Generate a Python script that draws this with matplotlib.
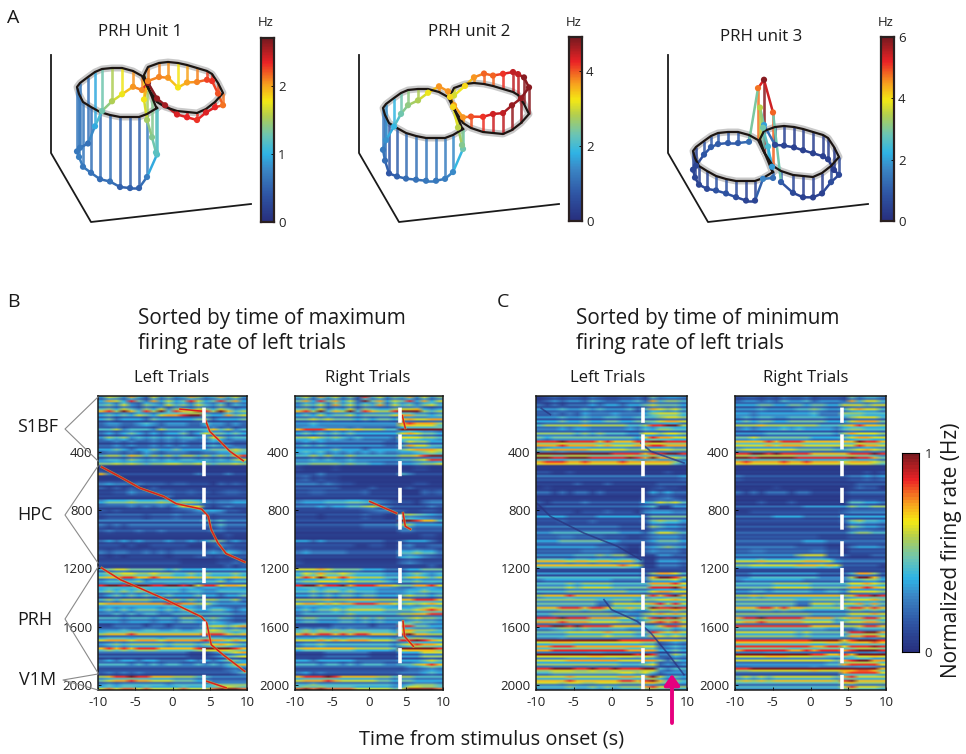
import numpy as np
import matplotlib
matplotlib.use("Agg")
import matplotlib.pyplot as plt
from matplotlib.colors import LinearSegmentedColormap

W, H = 966, 754
plt.rcParams['font.family'] = ['Open Sans', 'DejaVu Sans']
plt.rcParams['axes.unicode_minus'] = False

# track of the figure eight, shared by the three units (px on the first unit)
track_x = [157,147,139,130,120,110,100,91,83,79,77,80,88,95,102,112,122,133,142,148,157,165,177,187,197,206,215,223,218,212,207,197,187,178,168,159,148,144,147,152,156]
track_y = [108,114,117,117,117,115,112,107,102,94,87,83,77,72,69,68,68,71,76,88,102,107,111,112,113,109,102,93,83,74,71,68,65,63,62,63,67,75,85,97,107]

unit1_rate = [1.17,0.7,0.47,0.47,0.5,0.6,0.58,0.62,0.65,0.7,0.66,0.65,0.6,0.95,1.3,1.55,1.75,2.05,2.1,2.65,2.6,2.55,2.4,2.35,2.3,2.4,2.35,2.15,2.2,2.3,2.25,2.1,2.0,1.8,2.05,2.1,2.1,1.8,1.5,1.35,1.2]
unit2_rate = [2.35,1.45,1.25,1.15,1.15,1.1,1.0,0.85,0.75,1.0,1.2,1.5,1.9,2.3,2.6,2.8,3.2,3.7,3.7,3.6,3.7,4.0,4.2,4.4,4.5,4.7,4.7,4.8,4.8,4.5,4.45,4.2,3.95,3.95,3.7,3.3,3.0,3.35,3.35,2.9,2.5]
unit3_rate = [1.3,1.6,0.5,0.5,0.7,0.8,0.8,0.6,0.55,0.5,0.55,0.55,0.85,1.0,1.0,1.0,1.0,1.25,4.7,5.9,4.8,1.0,0.6,0.4,0.45,0.45,0.7,0.6,0.3,0.4,0.4,0.4,0.4,0.45,0.5,0.6,2.0,3.5,2.9,2.5,1.9]

# rows are about 34 units deep, columns 1 s wide, digit = tenths of the rate
left_b = [
"36537426353475347463","45363254364536435243","56475364736547647534","34343543566788433645","34233324333334423334",
"23322343233322433232","33423332433333353423","23234323233423544343","35453434343443365344","22323223232322343322",
"33432334334333344454","23323243233322334465","34435434343443434356","66767656677667656676","21111111111111111111",
"52111111111112111211","11111111111111111111","45443433323322213232","21212112111111111111","22336444443343323443",
"11111111121111111111","57778777876887434455","22223232324787212322","32322222223346776332","23333323334333323333",
"22222222222222323222","32323333333333335333","23222322322222233222","11111111111111111211","23232322232232344232",
"22212112222211124322","32332232323333343543","21212222212223323233","22222222222111112232","11111111111111111212",
"34554444434333333333","45566556554454544454","34444534444444445344","78878887788785775665","45454544444344334444",
"23434343343334332334","34344443334343443342","67777777788775643333","34343444343443344323","22323233223333333322",
"44434443443554454322","11222212212222455456","33343344334334565454","45556555555555666545","56665666566666766565",
"34545555545554567654","56565666555556778765","22222222222211123456","23233233222232323443","33332323233223232345",
"22222222222222222343","23232322222222222235","45667665554443322222","34344444434444445555","45455454444544456765",
]
right_b = [
"46374635284635473635","35463746354736453564","56473547365446778434","34353445344445664434","44545444343443565566",
"33433333333333787775","56665554544433788889","34343434333333565443","55654543433332666554","34343333333322476644",
"33333433323333456665","45453434343433445676","33434334333333445688","55666656554433445667","21111211111111112211",
"11121111111111321111","34232211111111111111","44434322111111112211","22222211112111121111","33443333342222111434",
"11111111111111111111","45556667765432221344","33343445567432222232","22222222234554322332","22212222232211787654",
"11111111111111786553","22222222233333664444","11111111111111332222","11111111111111111221","33232222222211233321",
"22222222112211342233","34333332222222556553","22222222222222787543","21111111111111343222","11111111111111111121",
"55565444433322233444","46575565444433345434","45566656555543445444","78867786777665446675","44545545444333344544",
"33434344344333454434","44445445555444556665","67767677888776565676","34344545555544445676","23333334333333445566",
"45544455454544456554","11111222221222774433","45454545444443775554","56566565665554675544","55565656665554778765",
"34454444444443568776","45555555444443788886","11112222221111333555","33233333222222333454","33323323233322334565",
"22222222222222233454","34232222222222333454","56667655555443443333","44544444444443345554","56565555444443477665",
]
left_c = [
"12323324322334274554","21212223233233454443","33343343433342476564","22323243334333467775","33343343344334445665",
"34444454444433466774","33343443333343546655","55555454544433665665","43444444444443576655","66676666565556677666",
"56777776666655666655","77787777776666566776","88778887777787686654","78887787777877777753","11111111111111111111",
"22112111111111111211","33333333333333333334","11111211121111112222","12111111111111123221","22121221211111132322",
"11111111111111234532","21222232222222457675","12222222222222341133","22222122232221455544","33332222333333244444",
"22232223222222378775","33333333333222265443","33444444444333246654","44455444433322356664","33344444433222234443",
"44444444333211345654","44444455554311465553","33333444545521113322","88887887887885114443","88888888888987113332",
"11111111111111111111","33333333333333257764","34444444443333366674","44445455554444477786","44445555555544467766",
"45556555555555465675","55555555445554556676","44444444225555567575","55566656654454476686","44555555554433567676",
"77787776666553578786","66776766665555335665","44566565555544455645","44445555565554476565","77787777777666665554",
"77888777777777662343","66777777777766663343","77777778877776762243","55556666666555664243","55555555555444562323",
"66777667667666773233","44555555555665642333","55556555555665685343","77767766777666886554","44445445454555786655",
]
right_c = [
"23323243342333274664","33344334434433555455","33343333445433467664","44344444445333666555","34344334444433356664",
"44454444444333456554","34344454544443566555","33334444444443576665","44544444443333456655","55556566655555557665",
"56666666555554456765","66776766665555566676","88788888777777787764","78777787787777677765","11111111111111111111",
"11111111111111111212","32222222222222233434","11111111111111112222","11111211111111124331","21212221221111122222",
"11111111111111122222","11121112111111155443","22222222233333354455","11222222222222344444","22222333322222333333",
"22222222222222378665","22222222222222265443","22222222222222245544","33333333333222233333","22222222233322222222",
"33333333222211134443","44554444445533133333","33333333566622211122","77787777788874333333","66777777888787222221",
"11111111111111111111","22333333333222247752","34444444433333355664","44444555554444466765","33443444443344366665",
"44545555555555456676","55555555445555566675","44444444225554556464","55566565544444466565","55555555554444466676",
"67787777766664566775","66666666665555445665","55555555555544335555","55555555454444477886","66666666667777568786",
"88888888887788688898","67777776676777678887","77778887776655657787","55555555555554678866","33333333333344788886",
"66777777778777889985","22222222222222788886","45454555555554675555","55555555555555786666","44444444444444686665",
]

# how strong each unit is within a band, same order on left and right trials
stripes_b = ("6374625847372653847364526375482635" "3232832324252327234252324238253252432724324523234"
             "54736584627356472846357482635473658247364857362748634" "528473659")
stripes_c = ("4263726354627384526374857362847365" "2324252326232742325262342724325236232742523262352"
             "53746285364736284637485263746285374628536472853746285" "637485264")

b_left_ridges = [
    ([1, 4.1, 4.4, 5, 6.4, 7.7, 9.5], [105, 120, 178, 258, 327, 395, 460]),
    ([-9.5, -7, -4.4, -1.2, 0.5, 3.9, 4.8, 5.2, 6.1, 7.2, 9.7], [503, 572, 647, 705, 755, 792, 842, 934, 1025, 1098, 1156]),
    ([-9.5, -7, -3.9, -0.9, 0.5, 3.9, 4.6, 5.2, 6.8, 9.7], [1197, 1277, 1346, 1414, 1449, 1533, 1575, 1724, 1793, 1907]),
    ([4.6, 7.2], [1975, 2020]),
]
b_right_ridges = [
    ([0.1, 3.7], [740, 820]),
    ([4.6, 4.9, 5.6], [819, 910, 930]),
    ([4.6, 4.8, 6], [1563, 1666, 1735]),
    ([4.5, 4.9], [150, 235]),
]
c_left_troughs = [
    ([-9.3, -8.1], [100, 143]),
    ([3.9, 5.2, 9.6], [338, 395, 475]),
    ([-9.9, -8.1, -3.7, 0.8, 3.9], [750, 842, 956, 1048, 1140]),
    ([-1, 0, 3.4, 5.2, 7.4, 9.6], [1414, 1483, 1563, 1643, 1781, 1930]),
]

unit_ticks = [[0, 1, 2], [0, 2, 4], [0, 2, 4, 6]]
unit_tops = [2.7, 4.9, 6.0]
x_ticks = [-10, -5, 0, 5, 10]
y_ticks = [400, 800, 1200, 1600, 2000]

jet_ai = LinearSegmentedColormap.from_list("jet_ai", [
    (0.00, "#28307f"), (0.14, "#2f55a4"), (0.28, "#3b87c6"), (0.37, "#2fb5e6"),
    (0.47, "#6cc5b4"), (0.58, "#b5cf4d"), (0.66, "#f5e914"), (0.75, "#f8a11f"),
    (0.87, "#ec2326"), (1.00, "#7a1a20")]).resampled(64)

fig = plt.figure(figsize=(W / 100, H / 100), dpi=100)


def px_axes(x0, y0, x1, y1, **kw):
    return fig.add_axes([x0 / W, 1 - y1 / H, (x1 - x0) / W, (y1 - y0) / H], **kw)


over = px_axes(0, 0, W, H, zorder=5)
over.set_xlim(0, W)
over.set_ylim(H, 0)
over.axis("off")
over.patch.set_alpha(0)


def draw_unit(rate, dx, dy, z, k, vmax):
    tx = np.array(track_x) + dx
    ty = np.array(track_y) + dy
    px = tx
    py = ty - (np.array(rate) - z) * k
    ring_x = np.r_[tx, tx[0]]
    ring_y = np.r_[ty, ty[0]]
    over.plot(ring_x, ring_y, color="#c9c9c9", lw=5, solid_joinstyle="round")
    # stems first, the ring goes over them
    for i in range(len(tx)):
        c = jet_ai(rate[i] / vmax)
        over.plot([tx[i], px[i]], [ty[i], py[i]], color=c, lw=1.9, alpha=0.85, solid_capstyle="butt")
    for i in range(len(tx) - 1):
        c = jet_ai((rate[i] + rate[i + 1]) / 2 / vmax)
        over.plot(px[i:i + 2], py[i:i + 2], color=c, lw=1.8)
    over.plot(ring_x, ring_y, color="#1c1512", lw=1.6, solid_joinstyle="round")
    over.scatter(px, py, s=20, c=np.array(rate) / vmax, cmap=jet_ai, vmin=0, vmax=1, zorder=4, linewidths=0)


def draw_frame(dx):
    over.plot(np.array([51, 51, 91, 251]) + dx, [55, 153, 222, 204], color="#1a1a1a", lw=1.3)


def unit_bar(x0, x1, y0, y1, ticks, top, label_x):
    ax = px_axes(x0, y0, x1, y1)
    ax.imshow(np.linspace(1, 0, 64)[:, None], aspect="auto", cmap=jet_ai, extent=[0, 1, 0, top])
    ax.set_xticks([])
    ax.yaxis.tick_right()
    ax.set_yticks(ticks)
    ax.tick_params(axis="y", direction="in", length=2, width=0.6, labelsize=9.5, pad=3, labelcolor="#222222")
    for s in ax.spines.values():
        s.set_linewidth(1.6)
        s.set_color("#2a2020")
    over.text(label_x, y0 - 15, "Hz", fontsize=9.5, ha="center", va="center", color="#222222")


def heat_panel(x0, x1, rows, stripes):
    ax = px_axes(x0, 396, x1, 690)
    coarse = np.array([[int(c) for c in r] for r in rows]) / 9
    n = len(stripes)
    gain = np.array([int(c) for c in stripes]) / 5
    band = [i * len(rows) // n for i in range(n)]
    data = np.clip(coarse[band] * 0.8 * gain[:, None], 0, 1)
    ax.imshow(data, aspect="auto", cmap=jet_ai, vmin=0, vmax=1, extent=[-10, 10, 2035, 15], interpolation="bilinear")
    ax.set_xticks(x_ticks)
    ax.set_yticks(y_ticks)
    ax.tick_params(direction="in", length=2, width=0.6, labelsize=9.5, pad=4, labelcolor="#222222")
    for s in ax.spines.values():
        s.set_linewidth(1.1)
        s.set_color("#1a1a1a")
    return ax


def add_curves(ax, curves, color, lw, halo=None, alpha=1):
    for t, u in curves:
        if halo:
            ax.plot(t, u, color=halo, lw=lw + 0.8, alpha=0.6)
        ax.plot(t, u, color=color, lw=lw, alpha=alpha)


# panel A
draw_frame(0)
draw_frame(308)
draw_frame(617)
draw_unit(unit1_rate, 0, 0, 2.5, 35, unit_tops[0])
draw_unit(unit2_rate, 306, 21, 3.4, 19, unit_tops[1])
draw_unit(unit3_rate, 616, 64, 1.65, 17, unit_tops[2])
unit_bar(261, 274, 38, 222, unit_ticks[0], unit_tops[0], 266)
unit_bar(569, 582, 37, 221, unit_ticks[1], unit_tops[1], 574)
unit_bar(881, 894, 37, 221, unit_ticks[2], unit_tops[2], 886)

over.text(140, 32, "PRH Unit 1", fontsize=12.2, ha="center", va="center", color="#1a1a1a")
over.text(469, 32, "PRH unit 2", fontsize=12.2, ha="center", va="center", color="#1a1a1a")
over.text(761, 37, "PRH unit 3", fontsize=12.2, ha="center", va="center", color="#1a1a1a")

# panels B and C
ax_bl = heat_panel(98, 247, left_b, stripes_b)
ax_br = heat_panel(295, 443, right_b, stripes_b)
ax_cl = heat_panel(536, 687, left_c, stripes_c)
ax_cr = heat_panel(735, 886, right_c, stripes_c)
add_curves(ax_bl, b_left_ridges, "#d8201f", 1.1, halo="#f6c21a")
add_curves(ax_br, b_right_ridges, "#d8201f", 1.1, halo="#f6c21a")
add_curves(ax_cl, c_left_troughs, "#29347f", 1.2, alpha=0.75)
for ax in [ax_bl, ax_br, ax_cl, ax_cr]:
    ax.axvline(4.2, color="white", lw=2.6, dashes=(4.2, 3.2))
    ax.set_xlim(-10, 10)
    ax.set_ylim(2035, 15)

for x, txt in zip([172, 368, 608, 806], ["Left Trials", "Right Trials", "Left Trials", "Right Trials"]):
    over.text(x, 378, txt, fontsize=12, ha="center", va="center", color="#1a1a1a")

over.text(138, 331, "Sorted by time of maximum\nfiring rate of left trials", fontsize=14.9, ha="left", va="center",
          linespacing=1.22, color="#1a1a1a")
over.text(576, 331, "Sorted by time of minimum\nfiring rate of left trials", fontsize=14.9, ha="left", va="center",
          linespacing=1.22, color="#1a1a1a")
over.text(492, 740, "Time from stimulus onset (s)", fontsize=14.4, ha="center", va="center", color="#1a1a1a")
over.text(951, 550, "Normalized firing rate (Hz)", fontsize=15, rotation=90, ha="center", va="center", color="#1a1a1a")

for x, y, s in [(7, 18, "A"), (7, 302, "B"), (497, 302, "C")]:
    over.text(x, y, s, fontsize=14, ha="left", va="center", color="#1a1a1a")
for y, s in [(427, "S1BF"), (515, "HPC"), (620, "PRH")]:
    over.text(17, y, s, fontsize=13, ha="left", va="center", color="#1a1a1a")
over.text(19, 680, "V1M", fontsize=13, ha="left", va="center", color="#1a1a1a")

# brackets that tie the region names to the rows
for apex, top, bottom in [((65, 429), 397, 461), ((65, 515), 466, 563), ((65, 619), 567, 673), ((63, 680), 674, 690)]:
    over.plot([98, apex[0], 98], [top, apex[1], bottom], color="#8a8a8a", lw=0.8)

over.annotate("", xy=(672, 674), xytext=(672, 723),
              arrowprops=dict(arrowstyle="-|>,head_width=0.45,head_length=0.65", color="#e6007e", lw=2.8, shrinkA=0, shrinkB=0))

# shared colour bar
cax = px_axes(902, 453, 919, 652)
cax.imshow(np.linspace(1, 0, 64)[:, None], aspect="auto", cmap=jet_ai, extent=[0, 1, 0, 1])
cax.set_xticks([])
cax.yaxis.tick_right()
cax.set_yticks([0, 1])
cax.tick_params(axis="y", length=0, labelsize=9.5, pad=4, labelcolor="#222222")
for s in cax.spines.values():
    s.set_linewidth(0.8)

fig.savefig("out.png", dpi=100)
